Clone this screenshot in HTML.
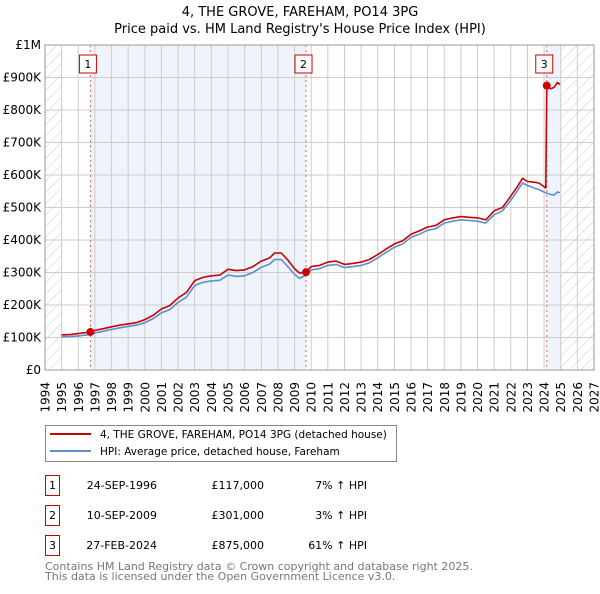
<!DOCTYPE html>
<html><head><meta charset="utf-8"><style>
body{margin:0;background:#fff;font-family:"DejaVu Sans","Liberation Sans",sans-serif;}
svg text{font-family:"DejaVu Sans","Liberation Sans",sans-serif;}
</style></head><body>
<svg id="chart" width="600" height="590" xmlns="http://www.w3.org/2000/svg">
<defs><pattern id="hatch" width="8" height="8" patternUnits="userSpaceOnUse" patternTransform="rotate(45)"><line x1="0" y1="0" x2="0" y2="8" stroke="#ccc" stroke-width="1"/></pattern></defs>
<text x="300" y="16" text-anchor="middle" font-size="13">4, THE GROVE, FAREHAM, PO14 3PG</text>
<text x="300" y="33" text-anchor="middle" font-size="13">Price paid vs. HM Land Registry's House Price Index (HPI)</text>
<g id="plot"></g>
<g id="legend">
<rect x="45.5" y="425.5" width="351" height="36" fill="#fff" stroke="#888"/>
<line x1="50" y1="434" x2="91" y2="434" stroke="#cc0000" stroke-width="2"/>
<text x="100" y="438" font-size="10.5">4, THE GROVE, FAREHAM, PO14 3PG (detached house)</text>
<line x1="50" y1="451" x2="91" y2="451" stroke="#5b8fd0" stroke-width="2"/>
<text x="100" y="455" font-size="10.5">HPI: Average price, detached house, Fareham</text>
</g>
<g id="table" font-size="11"></g>
<text x="45" y="570" font-size="11" fill="#777">Contains HM Land Registry data © Crown copyright and database right 2025.</text>
<text x="45" y="580" font-size="11" fill="#777">This data is licensed under the Open Government Licence v3.0.</text>
</svg>
<script>
const propYears=[1995,1995.5,1996,1996.73,1997,1997.5,1998,1998.5,1999,1999.5,2000,2000.5,2001,2001.5,2002,2002.5,2003,2003.5,2004,2004.5,2005,2005.5,2006,2006.5,2007,2007.5,2007.8,2008.2,2008.6,2009.0,2009.3,2009.69,2010,2010.5,2011,2011.5,2012,2012.5,2013,2013.5,2014,2014.5,2015,2015.5,2016,2016.5,2017,2017.5,2018,2018.5,2019,2019.5,2020,2020.5,2021,2021.5,2022,2022.4,2022.7,2023,2023.4,2023.7,2024.1,2024.16,2024.4,2024.6,2024.8,2024.95];
const propValues=[108,109,112,117,122,127,133,138,142,146,155,168,188,198,222,238,275,285,290,292,310,306,308,318,335,345,360,360,338,312,298,301,318,322,332,335,325,328,332,340,355,372,388,398,418,428,440,445,462,468,472,470,468,462,490,500,535,565,590,580,578,575,560,875,865,870,885,878];
const hpiYears=[1995,1995.5,1996,1996.73,1997,1997.5,1998,1998.5,1999,1999.5,2000,2000.5,2001,2001.5,2002,2002.5,2003,2003.5,2004,2004.5,2005,2005.5,2006,2006.5,2007,2007.5,2007.8,2008.2,2008.6,2009.0,2009.3,2009.69,2010,2010.5,2011,2011.5,2012,2012.5,2013,2013.5,2014,2014.5,2015,2015.5,2016,2016.5,2017,2017.5,2018,2018.5,2019,2019.5,2020,2020.5,2021,2021.5,2022,2022.4,2022.7,2023,2023.4,2023.7,2024.1,2024.4,2024.6,2024.8,2024.95];
const hpiValues=[102,103,105,109,114,119,125,130,134,138,146,158,176,186,208,224,260,270,274,276,292,288,290,300,316,326,340,340,318,294,282,292,308,312,322,325,315,318,322,330,345,362,378,388,408,418,430,435,452,458,462,460,458,452,478,490,522,552,575,568,560,555,545,540,538,548,545];
const saleYears=[1996.73,2009.69,2024.16];
const saleValues=[117,301,875];
const saleDates=["24-SEP-1996","10-SEP-2009","27-FEB-2024"];
const salePrices=["£117,000","£301,000","£875,000"];
const saleHpi=["7% \u2191 HPI","3% \u2191 HPI","61% \u2191 HPI"];
const yTicks=[0,100,200,300,400,500,600,700,800,900,1000];
const yTickLabels=["£0","£100K","£200K","£300K","£400K","£500K","£600K","£700K","£800K","£900K","£1M"];
const xTicks=[1994,1995,1996,1997,1998,1999,2000,2001,2002,2003,2004,2005,2006,2007,2008,2009,2010,2011,2012,2013,2014,2015,2016,2017,2018,2019,2020,2021,2022,2023,2024,2025,2026,2027];

const NS="http://www.w3.org/2000/svg";
const X0=45,X1=594,Y0=370,Y1=45;
const xs=y=>X0+(y-1994)*(X1-X0)/33;
const ys=v=>Y0-(v/1000)*(Y0-Y1);
const plot=document.getElementById('plot');
function mk(tag,attrs,parent){const e=document.createElementNS(NS,tag);for(const k in attrs)e.setAttribute(k,attrs[k]);(parent||plot).appendChild(e);return e;}

let r;
r=mk('rect',{x:xs(saleYears[0]),y:Y1,width:xs(saleYears[1])-xs(saleYears[0]),height:Y0-Y1,fill:'#eef3fc'});


r=mk('rect',{x:xs(saleYears[2]),y:Y1,width:xs(2025)-xs(saleYears[2]),height:Y0-Y1,fill:'#eef3fc'});


r=mk('rect',{x:X0,y:Y1,width:xs(1995)-X0,height:Y0-Y1,fill:'url(#hatch)'});


r=mk('rect',{x:xs(2025),y:Y1,width:X1-xs(2025),height:Y0-Y1,fill:'url(#hatch)'});



yTicks.forEach((t,i)=>{
 const l=mk('line',{x1:X0,x2:X1,y1:ys(t),y2:ys(t),stroke:'#ccc'});
 
 
 const tx=mk('text',{x:X0-4,y:ys(t)+4,'text-anchor':'end','font-size':'12'});
 tx.textContent=yTickLabels[i];
 
 
});
xTicks.forEach(t=>{
 const l=mk('line',{x1:xs(t),x2:xs(t),y1:Y1,y2:Y0,stroke:'#ccc'});
 
 
 const px=xs(t)+4.5, py=382;
 const tx=mk('text',{x:px,y:py,'text-anchor':'end','font-size':'12',transform:'rotate(-90 '+px+' '+py+')'});
 tx.textContent=t;
 
 
});
saleYears.forEach((s,i)=>{
 const l=mk('line',{x1:xs(s),x2:xs(s),y1:Y1,y2:Y0,stroke:'#e06060','stroke-dasharray':'2,3'});
 
 
});
function path(xa,va,color,name){
 const d=xa.map((y,i)=>(i?'L':'M')+xs(y).toFixed(1)+','+ys(va[i]).toFixed(1)).join('');
 const p=mk('path',{d:d,fill:'none',stroke:color,'stroke-width':'1.6','stroke-linejoin':'round'});
 
 
}
path(hpiYears,hpiValues,'#5b8fd0','hpi-line');
path(propYears,propValues,'#cc0000','property-price-line');
saleYears.forEach((s,i)=>{
 const c=mk('circle',{cx:xs(s),cy:ys(saleValues[i]),r:4,fill:'#cc0000'});
 
 
 const b=mk('rect',{x:xs(s)-11,y:55,width:17,height:18,fill:'#fff',stroke:'#cc0000'});
 
 
 const t=mk('text',{x:xs(s)-2.5,y:68,'text-anchor':'middle','font-size':'11'});
 t.textContent=i+1;
 
 
});
const ax=mk('rect',{x:X0,y:Y1,width:X1-X0,height:Y0-Y1,fill:'none',stroke:'#999'});



const tbl=document.getElementById('table');
saleYears.forEach((s,i)=>{
 const y=475+i*30;
 const b=mk('rect',{x:45.5,y:y+0.5,width:14,height:20,fill:'#fff',stroke:'#cc0000'},tbl);
 
 
 const n=mk('text',{x:52.5,y:y+14,'text-anchor':'middle'},tbl);n.textContent=i+1;
 
 
 const d=mk('text',{x:157,y:y+14,'text-anchor':'end'},tbl);d.textContent=saleDates[i];
 
 
 const p=mk('text',{x:264,y:y+14,'text-anchor':'end'},tbl);p.textContent=salePrices[i];
 
 
 const h=mk('text',{x:367,y:y+14,'text-anchor':'end'},tbl);h.textContent=saleHpi[i];
 
 
});
</script>
</body></html>
